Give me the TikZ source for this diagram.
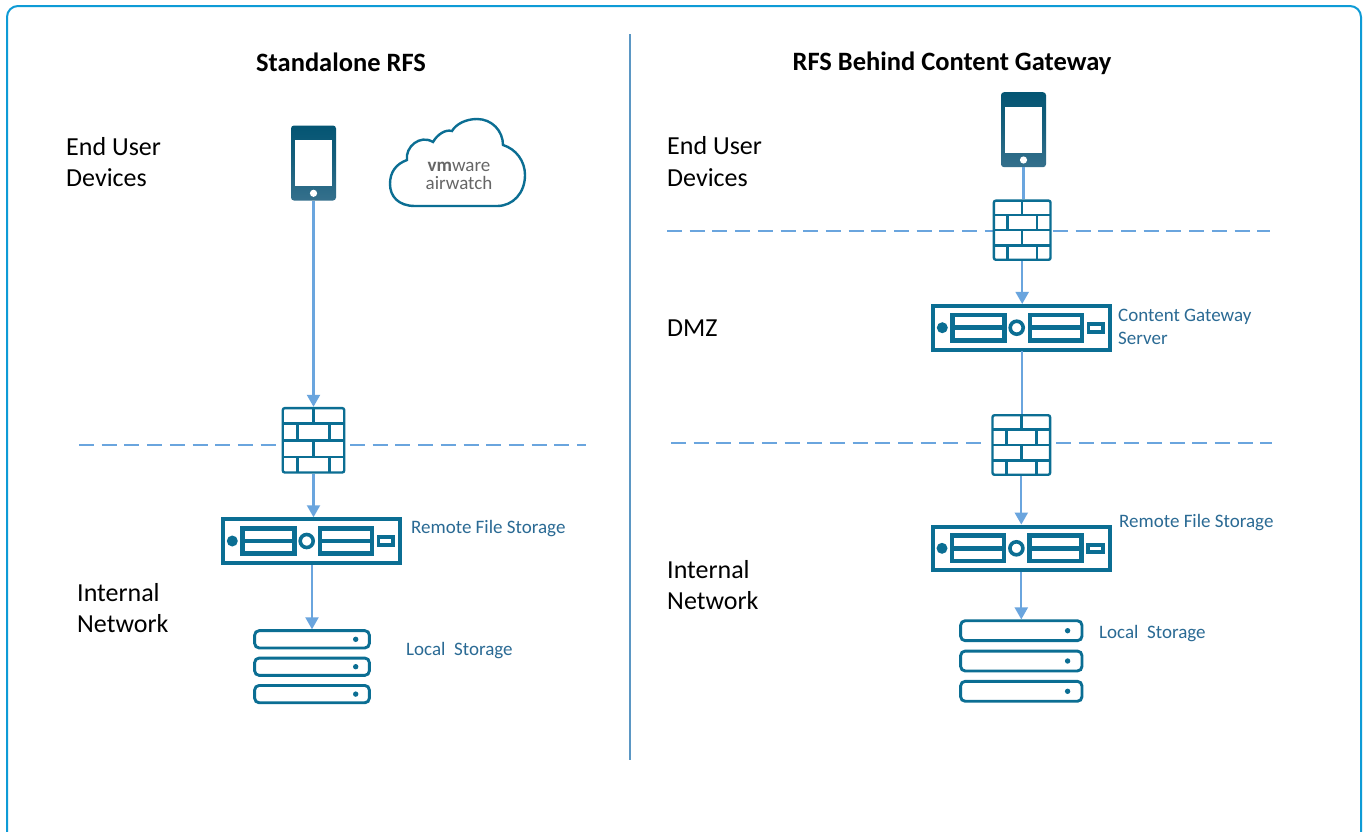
\documentclass[tikz,border=0pt]{standalone}
\usepackage{fontspec}
\setmainfont{Carlito}
\usetikzlibrary{arrows.meta}
\definecolor{ink}{HTML}{0B6E93}
\definecolor{dark}{HTML}{045573}
\definecolor{phone}{HTML}{35708C}
\definecolor{wire}{HTML}{6AA5DE}
\definecolor{lab}{HTML}{2A6A94}
\definecolor{frame}{HTML}{0E9BD6}
\definecolor{divider}{HTML}{5B97C4}
\tikzset{
 x=1pt,y=-1pt,
 heading/.style={font=\fontsize{26.5}{30}\selectfont\bfseries,text=black,inner sep=0},
 zone/.style={font=\fontsize{26}{31.5}\selectfont,text=black,inner sep=0,align=left,anchor=west},
 lbl/.style={font=\fontsize{19}{23}\selectfont,text=lab,inner sep=0,align=left,anchor=west},
 wireln/.style={draw=wire,line width=2.2pt},
 arrowln/.style={wireln,-{Triangle[width=13pt,length=12pt,fill=wire]}},
 dashln/.style={draw=wire,line width=1.9pt,dash pattern=on 15pt off 7.7pt},
 blank/.style={inner sep=0,outer sep=0},
 pic1/.style={draw=ink,line width=2.4pt},
}
% firewall: name, centre x, y, half width, half height
\newcommand{\firewall}[5]{%
 \node[blank,minimum width=#4*2 pt,minimum height=#5*2 pt,fill=white] (#1) at (#2,#3) {};
 \begin{scope}[shift={(#2,#3)},x=#4pt,y=-#5pt]
  \draw[pic1,rounded corners=2pt,fill=white] (-.96,-.96) rectangle (.96,.96);
  \draw[pic1] (-.96,-.5)--(.96,-.5) (-.96,0)--(.96,0) (-.96,.5)--(.96,.5);
  \draw[pic1] (0,-.96)--(0,-.5) (-.5,-.5)--(-.5,0) (.5,-.5)--(.5,0) (0,0)--(0,.5) (-.5,.5)--(-.5,.96) (.5,.5)--(.5,.96);
 \end{scope}}
% server: name, centre x, y
\newcommand{\serverbox}[3]{%
 \node[blank,minimum width=181pt,minimum height=47.5pt] (#1) at (#2,#3) {};
 \begin{scope}[shift={(#2,#3)}]
  \draw[draw=ink,line width=4pt] (-88.5,-21.8) rectangle (88.5,21.8);
  \fill[ink] (-79,0) circle (5.5pt);
  \draw[draw=ink,line width=4.5pt] (-69,-12.7) rectangle (-17,12.7);
  \draw[draw=ink,line width=4.5pt] (-69,0) -- (-17,0);
  \draw[draw=ink,line width=3.6pt] (-4.6,0) circle (6.5pt);
  \draw[draw=ink,line width=4.5pt] (8.7,-12.7) rectangle (60.7,12.7);
  \draw[draw=ink,line width=4.5pt] (8.7,0) -- (60.7,0);
  \fill[ink] (65.4,-5.8) rectangle (83.7,5.8);
  \fill[white] (69,-1.8) rectangle (80,1.8);
 \end{scope}}
% storage: name, centre x, y, half width, half height of a row, row spacing, dot offset
\newcommand{\storage}[7]{%
 \node[blank,minimum width=#4*2 pt,minimum height=(#6*2+#5*2)*1pt] (#1) at (#2,#3) {};
 \begin{scope}[shift={(#2,#3)}]
  \foreach \yy in {-1,0,1}{
   \draw[draw=ink,line width=2.9pt,rounded corners=4.5pt] (-#4+1.35,\yy*#6-#5+1.35) rectangle (#4-1.35,\yy*#6+#5-1.35);
   \fill[ink] (#7,\yy*#6) circle (2.7pt);
  }
 \end{scope}}
% phone: name, centre x, y
\newcommand{\phoneicon}[3]{%
 \node[blank,minimum width=45pt,minimum height=75pt] (#1) at (#2,#3) {};
 \begin{scope}[shift={(#2,#3)}]
  \shade[top color=dark,bottom color=phone,middle color=dark!60!phone,rounded corners=3pt] (-22.5,-37.5) rectangle (22.5,37.5);
  \fill[white] (-18.3,-23) rectangle (18.3,23);
  \fill[white] (0,30.3) circle (3.6pt);
 \end{scope}}
\begin{document}
\begin{tikzpicture}
\useasboundingbox (0,0) rectangle (1369,831);
\fill[white] (0,0) rectangle (1369,831);
\draw[draw=frame,line width=2pt,rounded corners=11pt] (7,6) rectangle (1361,860);
\coordinate (divA) at (629.5,34);
\coordinate (divB) at (629.5,760);
\draw[draw=divider,line width=2pt] (divA) -- (divB);
\node[heading] (t1) at (341,62) {Standalone RFS};
\node[heading] (t2) at (952,63.5) {RFS Behind Content Gateway};
\node[zone] (z1) at (66,162) {End User\\Devices};
\node[zone] (z2) at (77,608) {Internal\\Network};
\node[zone] (z3) at (667,161.5) {End User\\Devices};
\node[zone] (z4) at (667,328) {DMZ};
\node[zone] (z5) at (667,585) {Internal\\Network};
% dashed boundaries
\coordinate (d1a) at (79,445.3);\coordinate (d1b) at (276,445.3);
\coordinate (d1c) at (350,445.3);\coordinate (d1d) at (586,445.3);
\coordinate (d2a) at (667,231);\coordinate (d2b) at (1270,231);
\coordinate (d3a) at (671,443);\coordinate (d3b) at (984,443);
\coordinate (d3c) at (1056,443);\coordinate (d3d) at (1272,443);
\draw[dashln] (d1a)--(d1b);
\draw[dashln] (d1c)--(d1d);
\draw[dashln] (d2a)--(d2b);
\draw[dashln] (d3a)--(d3b);
\draw[dashln] (d3c)--(d3d);
% cloud
\draw[draw=ink,line width=2.4pt,fill=white] (415,206) .. controls (398,206) and (390,196) .. (390,184)
 .. controls (390,172) and (396,164) .. (407,160)
 .. controls (405,147) and (420,134) .. (433,142)
 .. controls (437,135) and (445,129) .. (452,131)
 .. controls (456,124) and (466,119) .. (477,119)
 .. controls (492,119) and (503,131) .. (503,145)
 .. controls (516,149) and (525,161) .. (525,175)
 .. controls (525,193) and (513,206) .. (497,206) -- cycle;
\node[inner sep=0,align=center,font=\fontsize{19}{18}\selectfont,text=black!60] (logo) at (459,176) {\textbf{vm}ware\\airwatch};
\phoneicon{ph1}{313.5}{163}
\phoneicon{ph2}{1023.5}{129.7}
\firewall{fw1}{313.5}{440.3}{32}{33.5}
\firewall{fw2}{1022.2}{230.2}{29.5}{30.8}
\firewall{fw3}{1021.3}{445}{30}{31}
\serverbox{sv1}{311.3}{541}
\serverbox{sv2}{1021.3}{327.7}
\serverbox{sv3}{1021}{548.3}
\storage{st1}{312}{666.7}{58.7}{10}{27.4}{43.7}
\storage{st2}{1021.3}{661}{62}{11.3}{30.3}{46.3}
\node[lbl] (l1) at (411,529) {Remote File Storage};
\node[lbl] (l2) at (406,651) {Local\ \ Storage};
\node[lbl] (l3) at (1118,326.5) {Content Gateway\\Server};
\node[lbl] (l4) at (1119,523) {Remote File Storage};
\node[lbl] (l5) at (1099,634) {Local\ \ Storage};
% connectors
\draw[arrowln] (ph1.south) -- (fw1.north);
\draw[arrowln] (fw1.south) -- (sv1.north-|fw1.south);
\draw[arrowln] (sv1.south-|st1.north) -- (st1.north);
\draw[wireln] (ph2.south) -- (fw2.north-|ph2.south);
\draw[arrowln] (fw2.south) -- (sv2.north-|fw2.south);
\draw[wireln] (sv2.south-|fw2.south) -- (fw3.north-|fw2.south);
\draw[arrowln] (fw3.south) -- (sv3.north-|fw3.south);
\draw[arrowln] (sv3.south-|st2.north) -- (st2.north);
\end{tikzpicture}
\end{document}
